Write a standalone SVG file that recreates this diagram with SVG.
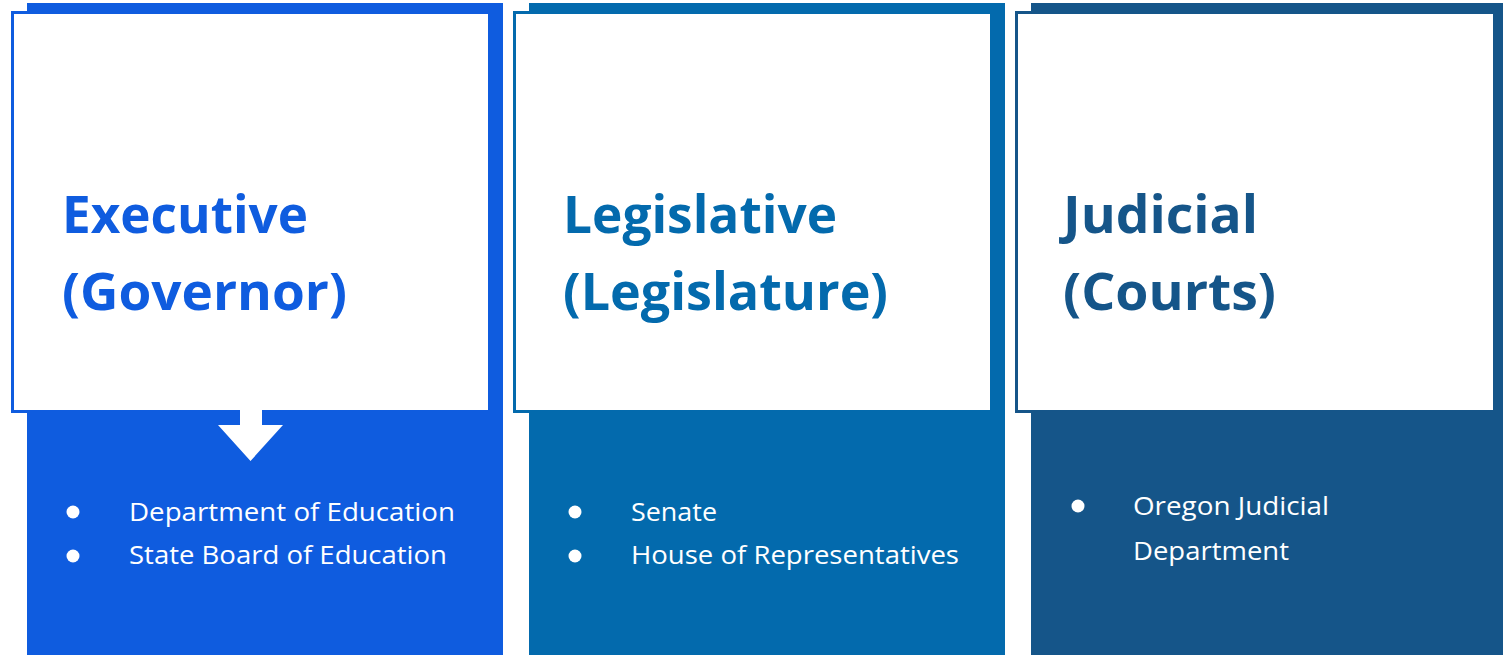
<svg xmlns="http://www.w3.org/2000/svg" width="1503" height="655" viewBox="0 0 1503 655">
<style>
.box{fill:#ffffff;stroke-width:3}
.head{font-family:"Open Sans","Liberation Sans",sans-serif;font-weight:700;font-size:52px}
.item{font-family:"Open Sans","Liberation Sans",sans-serif;font-size:26px;fill:#ffffff}
.dot{fill:#ffffff}
</style>
<rect width="1503" height="655" fill="#ffffff"/>
<g id="executive">
<rect x="27" y="3" width="476" height="652" fill="#0F5CDF"/>
<rect class="box" x="12.5" y="12.5" width="477" height="399" stroke="#0F5CDF"/>
<polygon points="240,410 262,410 262,425 283,425 250.5,461 218,425 240,425" fill="#ffffff"/>
<text class="head" fill="#0F5CDF" x="62" y="233" textLength="246" lengthAdjust="spacingAndGlyphs">Executive</text>
<text class="head" fill="#0F5CDF" x="62" y="310" textLength="285" lengthAdjust="spacingAndGlyphs">(Governor)</text>
<circle class="dot" cx="73" cy="512" r="6.5"/>
<circle class="dot" cx="73" cy="556" r="6.5"/>
<text class="item" x="129" y="521" textLength="326" lengthAdjust="spacingAndGlyphs">Department of Education</text>
<text class="item" x="129" y="564" textLength="318" lengthAdjust="spacingAndGlyphs">State Board of Education</text>
</g>
<g id="legislative">
<rect x="529" y="3" width="476" height="652" fill="#036AAD"/>
<rect class="box" x="514.5" y="12.5" width="477" height="399" stroke="#036AAD"/>
<text class="head" fill="#036AAD" x="563" y="233" textLength="274" lengthAdjust="spacingAndGlyphs">Legislative</text>
<text class="head" fill="#036AAD" x="563" y="310" textLength="325" lengthAdjust="spacingAndGlyphs">(Legislature)</text>
<circle class="dot" cx="575" cy="512" r="6.5"/>
<circle class="dot" cx="575" cy="556" r="6.5"/>
<text class="item" x="631" y="521" textLength="86" lengthAdjust="spacingAndGlyphs">Senate</text>
<text class="item" x="631" y="564" textLength="328" lengthAdjust="spacingAndGlyphs">House of Representatives</text>
</g>
<g id="judicial">
<rect x="1031" y="3" width="472" height="652" fill="#155589"/>
<rect class="box" x="1016.5" y="12.5" width="478" height="399" stroke="#155589"/>
<text class="head" fill="#155589" x="1063" y="233" textLength="195" lengthAdjust="spacingAndGlyphs">Judicial</text>
<text class="head" fill="#155589" x="1063" y="310" textLength="213" lengthAdjust="spacingAndGlyphs">(Courts)</text>
<circle class="dot" cx="1078" cy="506" r="6.5"/>
<text class="item" x="1133" y="515" textLength="196" lengthAdjust="spacingAndGlyphs">Oregon Judicial</text>
<text class="item" x="1133" y="560" textLength="156" lengthAdjust="spacingAndGlyphs">Department</text>
</g>
<g id="connectors"></g>
</svg>
